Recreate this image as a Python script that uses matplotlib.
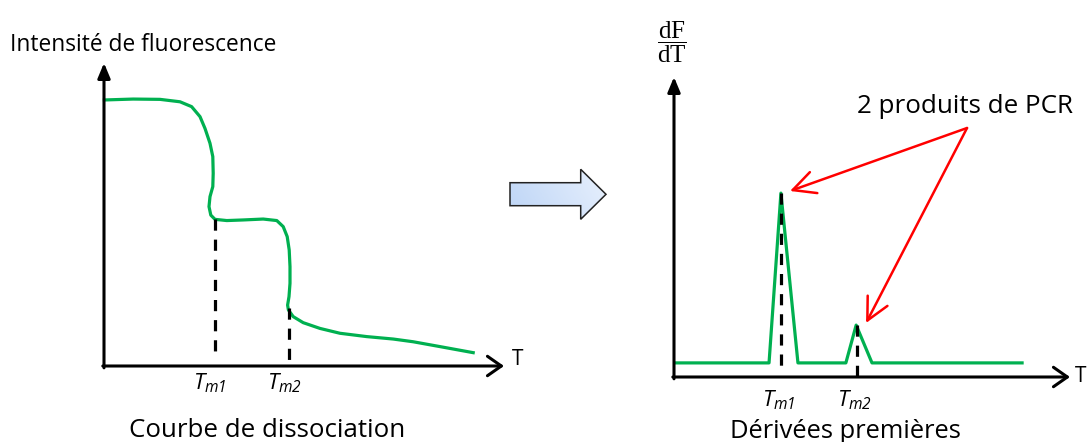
import numpy as np
import matplotlib
matplotlib.use('Agg')
import matplotlib.pyplot as plt
from matplotlib.patches import Polygon
from matplotlib.colors import LinearSegmentedColormap

plt.rcParams['font.family'] = ['Open Sans', 'DejaVu Sans']
plt.rcParams['mathtext.fontset'] = 'custom'
plt.rcParams['mathtext.rm'] = 'Liberation Serif'
plt.rcParams['mathtext.sf'] = 'Open Sans:italic'

# courbe de dissociation : T (0-100) et fluorescence (0-100), unites arbitraires
melt_t = [0.1, 7.3, 14, 19, 21.9, 24, 25.25, 26.5, 27.2, 27.3, 27.2, 26.5, 26.25, 26.7,
          27.75, 30.7, 34.8, 39.8, 43.2, 44.8, 45.8, 46.3, 46.5, 46.5, 46.25, 45.9, 46.1,
          47.3, 49.8, 54, 59, 65.7, 72.3, 77.3, 84, 92.3]
melt_f = [87.8, 88.1, 88.0, 87.2, 85.6, 82.3, 78.4, 73.5, 69.1, 63.6, 59.2, 55.9, 52.6, 49.8,
          48.4, 48.0, 48.2, 48.5, 48.0, 46.0, 42.7, 38.3, 32.8, 27.3, 22.9, 20.1, 18.5,
          16.3, 14.3, 12.4, 10.8, 9.7, 8.9, 8.0, 6.4, 4.4]
melt_tm = [27.75, 46.3]
melt_tm_top = [48.4, 19.0]
melt_tm_bottom = [2.6, 2.0]

# derivee premiere dF/dT
deriv_t = [0.3, 24.0, 27.0, 31.3, 43.4, 46.0, 50.0, 87.9]
deriv_v = [4.7, 4.7, 61.3, 4.7, 4.7, 17.3, 4.7, 4.7]
deriv_tm = [27.0, 46.2]
deriv_tm_top = [61.3, 17.3]
deriv_tm_bottom = [1.0, -1.3]

tm_labels = [r'$\mathsf{T}_{\mathsf{m1}}$', r'$\mathsf{T}_{\mathsf{m2}}$']

GREEN = '#00b050'
W, H = 1092, 442

fig = plt.figure(figsize=(W / 100, H / 100), dpi=100)


def px_axes(x0, y0, x1, y1):
    # axes placed from pixel corners (origin bottom-left = x0,y0 ; tip = x1,y1)
    return fig.add_axes([x0 / W, 1 - y0 / H, (x1 - x0) / W, (y0 - y1) / H])


def draw_axes_arrows(ax):
    ax.annotate('', xy=(0, 100), xytext=(0, -0.6), annotation_clip=False,
                arrowprops=dict(arrowstyle='-|>,head_length=0.6,head_width=0.25',
                                mutation_scale=15, lw=2.2, color='black',
                                shrinkA=0, shrinkB=0))
    ax.annotate('', xy=(100, 0), xytext=(-0.3, 0), annotation_clip=False,
                arrowprops=dict(arrowstyle='->,head_length=0.5,head_width=0.35',
                                mutation_scale=20, lw=2.2, color='black',
                                shrinkA=0, shrinkB=0))


# ---- gauche : courbe de dissociation
ax1 = px_axes(104, 366, 504, 63)
ax1.set_xlim(0, 100)
ax1.set_ylim(0, 100)
ax1.axis('off')
draw_axes_arrows(ax1)
ax1.plot(melt_t, melt_f, color=GREEN, lw=2.3, solid_joinstyle='round', clip_on=False)
for t, top, bot, lab in zip(melt_tm, melt_tm_top, melt_tm_bottom, tm_labels):
    ax1.plot([t, t], [top, bot], color='black', lw=2.3, ls=(0, (3.5, 2.8)), clip_on=False)
    ax1.text(t - 1.2, -5.6, lab, ha='center', va='center', fontsize=16)
ax1.text(103.3, 2.0, 'T', ha='center', va='center', fontsize=15)
ax1.text(-23.5, 104, 'Intensité de fluorescence', ha='left', va='baseline', fontsize=16.4)
ax1.text(40.75, -23.4, 'Courbe de dissociation', ha='center', va='baseline', fontsize=18.6)

# ---- droite : derivees premieres
ax2 = px_axes(674, 377, 1070, 77)
ax2.set_xlim(0, 100)
ax2.set_ylim(0, 100)
ax2.axis('off')
draw_axes_arrows(ax2)
ax2.plot(deriv_t, deriv_v, color=GREEN, lw=2.3, clip_on=False)
for t, top, bot, lab in zip(deriv_tm, deriv_tm_top, deriv_tm_bottom, tm_labels):
    ax2.plot([t, t], [top, bot], color='black', lw=2.3, ls=(0, (3.5, 2.8)), clip_on=False)
    ax2.text(t - 0.5, -7.7, lab, ha='center', va='center', fontsize=16)
ax2.text(102.8, 0, 'T', ha='center', va='center', fontsize=15)
ax2.text(-0.5, 111.7, r'$\dfrac{\mathrm{dF}}{\mathrm{dT}}$', ha='center', va='center', fontsize=18)
ax2.text(43.2, -20.5, 'Dérivées premières', ha='center', va='baseline', fontsize=18.4)

# fleches rouges vers les pics
pcr_src = (74.0, 83.0)
pcr_tips = [(29.3, 62.0), (48.5, 18.0)]
ax2.text(73.4, 88, '2 produits de PCR', ha='center', va='baseline', fontsize=18.7)
for tip in pcr_tips:
    ax2.annotate('', xy=tip, xytext=pcr_src, annotation_clip=False,
                 arrowprops=dict(arrowstyle='->,head_length=0.8,head_width=0.4',
                                 mutation_scale=20, lw=1.8, color='#ff0000',
                                 shrinkA=0, shrinkB=0))

# ---- fleche bleue entre les deux graphes
ax3 = px_axes(505, 224, 612, 165)
ax3.set_xlim(505, 612)
ax3.set_ylim(224, 165)
ax3.axis('off')
shape = [(510, 182.7), (580.7, 182.7), (580.7, 169.3), (606, 194.3),
         (580.7, 219.3), (580.7, 205.7), (510, 205.7)]
poly = Polygon(shape, closed=True, fc='none', ec='#222222', lw=1.1, joinstyle='miter')
ax3.add_patch(poly)
gx, gy = np.meshgrid(np.linspace(0, 1, 100), np.linspace(0, 1, 40))
grad = 0.75 * gx + 0.25 * (1 - gy)
cmap = LinearSegmentedColormap.from_list('bl', ['#bcd4f6', '#e9f1fd'])
im = ax3.imshow(grad, cmap=cmap, extent=(508, 608, 224, 165), aspect='auto', zorder=0)
im.set_clip_path(poly)

fig.savefig('out.png', dpi=100)
